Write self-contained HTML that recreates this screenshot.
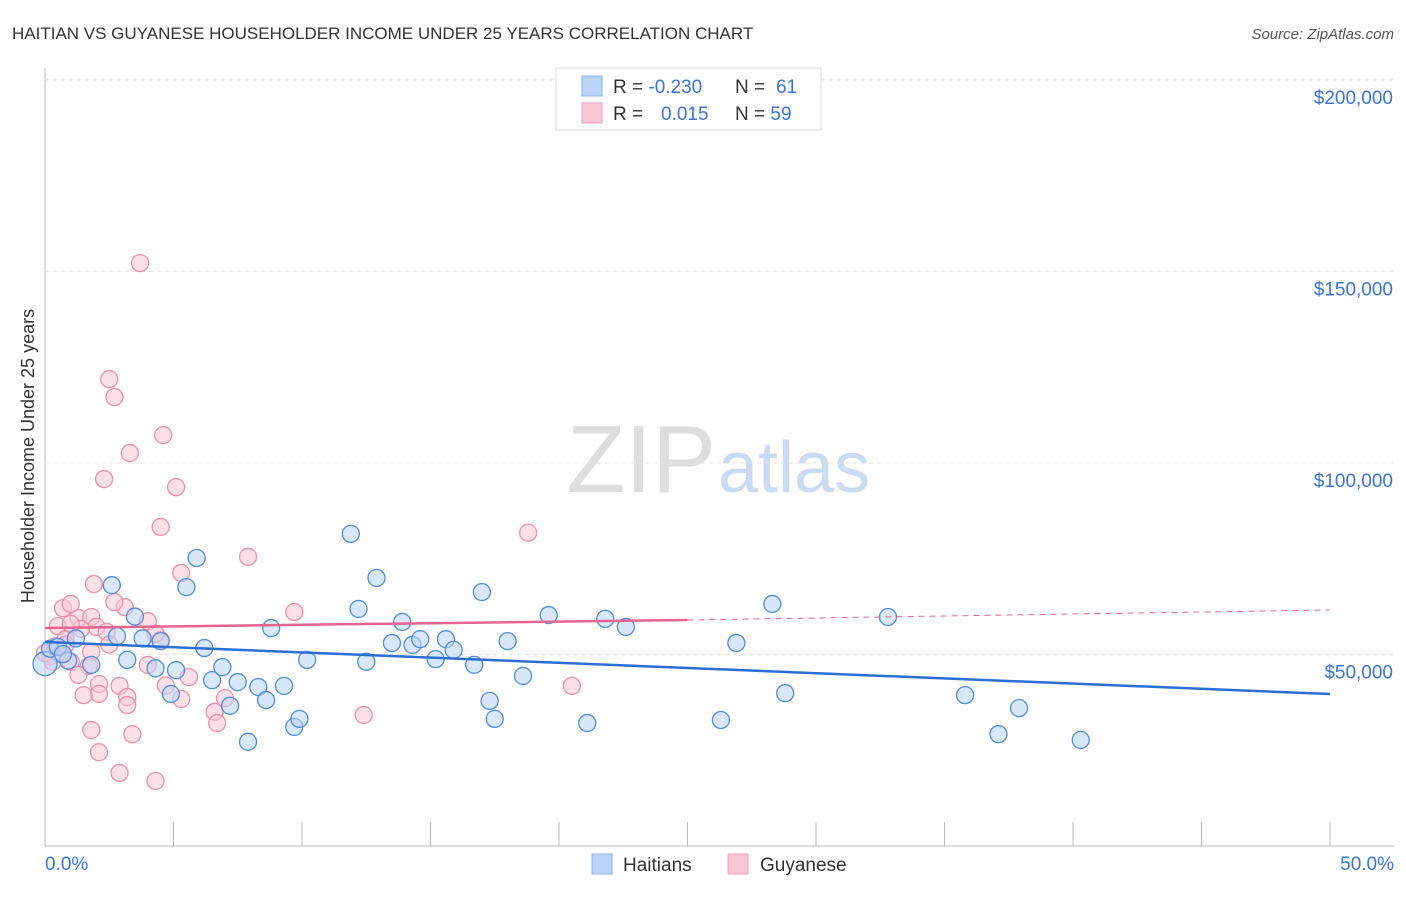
<!DOCTYPE html>
<html><head><meta charset="utf-8"><style>
body{margin:0;background:#fff;font-family:"Liberation Sans",sans-serif}
svg text{font-family:"Liberation Sans",sans-serif}
</style></head><body>
<svg id="c" width="1406" height="892" xmlns="http://www.w3.org/2000/svg">
<text x="12" y="39" font-size="17" fill="#333">HAITIAN VS GUYANESE HOUSEHOLDER INCOME UNDER 25 YEARS CORRELATION CHART</text>
<text x="1394" y="39" font-size="15" fill="#555" text-anchor="end" font-style="italic">Source: ZipAtlas.com</text>
<text x="716" y="492" font-size="96" fill="#ddd" text-anchor="end" font-family="Liberation Serif">ZIP</text>
<text x="718" y="492" font-size="72" fill="#c9dbf3">atlas</text>
<text transform="translate(34,456) rotate(-90)" font-size="18" fill="#333" text-anchor="middle">Householder Income Under 25 years</text>
<g id="grid"></g><g id="marks"></g>
<g>
<rect x="556" y="68" width="265" height="62" fill="#fff" stroke="#ddd"/>
<rect x="582" y="76" width="20" height="20" fill="#b9d4f6" stroke="#8ab3e8"/>
<rect x="582" y="103" width="20" height="20" fill="#f9c6d5" stroke="#f0a0b8"/>
<text x="613" y="93" font-size="19" fill="#333">R = <tspan fill="#3b76d4">-0.230</tspan><tspan x="735">N = </tspan><tspan fill="#3b76d4" x="776">61</tspan></text>
<text x="613" y="120" font-size="19" fill="#333">R = <tspan fill="#3b76d4" x="661">0.015</tspan><tspan x="735">N = </tspan><tspan fill="#3b76d4">59</tspan></text>
</g>
<g>
<rect x="592" y="854" width="20" height="20" fill="#b9d4f6" stroke="#8ab3e8"/>
<text x="623" y="871" font-size="19" fill="#333">Haitians</text>
<rect x="728" y="854" width="20" height="20" fill="#f9c6d5" stroke="#f0a0b8"/>
<text x="760" y="871" font-size="19" fill="#333">Guyanese</text>
</g>
<text x="45" y="870" font-size="19" fill="#3b76d4">0.0%</text>
<text x="1394" y="870" font-size="19" fill="#3b76d4" text-anchor="end">50.0%</text>
</svg>
<script>
const yTicks=[50000,100000,150000,200000];
const yTickLabels=["$50,000","$100,000","$150,000","$200,000"];
const haitianX=[0,0.2,0.5,0.9,1.2,1.8,2.6,2.8,3.2,3.5,3.8,4.3,4.5,4.9,5.1,5.5,5.9,6.2,6.5,6.9,7.2,7.5,7.9,8.3,8.6,8.8,9.3,9.7,9.9,10.2,11.9,12.2,12.5,12.9,13.5,13.9,14.3,14.6,15.2,15.6,15.9,16.7,17.0,17.3,17.5,18.0,18.6,19.6,21.1,21.8,22.6,26.3,26.9,28.3,28.8,32.8,35.8,37.1,37.9,40.3,0.7];
const haitianY=[47.6,51.5,52.0,48.4,54.2,47.3,68.1,54.8,48.6,59.9,54.2,46.4,53.5,39.7,45.9,67.6,75.2,51.7,43.3,46.7,36.6,42.8,27.2,41.5,38.1,56.9,41.8,31.1,33.2,48.6,81.5,61.9,48.1,70.0,53.0,58.5,52.5,54.0,48.8,54.0,51.2,47.3,66.3,37.9,33.2,53.5,44.4,60.3,32.1,59.3,57.2,32.9,53.0,63.2,39.9,59.8,39.4,29.2,36.0,27.7,50.1];
const guyX=[3.7,2.5,2.7,4.6,3.3,2.3,5.1,4.5,18.8,7.9,5.3,1.9,9.7,0.7,3.1,1.3,1.8,4.0,2.0,0.5,1.4,0.8,2.4,4.5,2.5,0.4,0.2,1.0,1.8,4.0,1.7,1.3,5.6,4.7,2.9,20.5,2.1,2.1,1.5,3.2,5.3,7.0,3.2,6.6,12.4,6.7,1.8,3.4,2.1,2.9,4.3,0.3,0.6,1.0,2.7,4.3,0,0.8,1.0];
const guyY=[152.2,121.9,117.2,107.3,102.6,95.8,93.7,83.3,81.8,75.5,71.3,68.4,61.1,62.1,62.4,59.5,59.8,58.7,57.2,57.4,56.7,54.0,55.9,53.8,52.6,52.1,49.5,48.1,50.7,47.3,47.0,44.7,44.1,41.9,41.8,41.8,42.3,39.7,39.4,38.9,38.4,38.6,36.8,35.0,34.2,32.1,30.3,29.2,24.5,19.1,17.0,48.1,50.1,58.0,63.7,55.4,50.4,52.6,63.2];
const X=v=>45+v*25.7, Y=v=>846-v/1000*3.83;
const NS="http://www.w3.org/2000/svg";
const mk=(t,a,p)=>{const e=document.createElementNS(NS,t);for(const k in a)e.setAttribute(k,a[k]);p.appendChild(e);return e;};
const gridG=document.getElementById('grid'),marksG=document.getElementById('marks');
const yAxisLine=mk('line',{x1:45,y1:68,x2:45,y2:846,stroke:'#bbb'},gridG);


const xAxisLine=mk('line',{x1:45,y1:846,x2:1394,y2:846,stroke:'#bbb'},gridG);


const topGrid=mk('line',{x1:45,y1:79,x2:1394,y2:79,stroke:'#e3e3e3','stroke-dasharray':'4,4'},gridG);


yTicks.forEach((t,i)=>{
 const l=mk('line',{x1:45,y1:Y(t),x2:1394,y2:Y(t),stroke:'#e3e3e3','stroke-dasharray':'4,4'},gridG);
 
 
 const tx=mk('text',{x:1393,y:Y(t)+24,'font-size':19,fill:'#3b76d4','text-anchor':'end'},gridG);
 tx.textContent=yTickLabels[i];
 
 
});
for(let i=1;i<=10;i++){const l=mk('line',{x1:X(i*5),y1:822,x2:X(i*5),y2:846,stroke:'#bbb'},gridG);
 
 }
function pts(xs,ys,f,s,name){xs.forEach((x,i)=>{const c=mk('circle',{cx:X(x),cy:Y(ys[i]*1000),r:(i==0&&name=='haitian-point')?12:8.5,fill:f,'fill-opacity':0.55,stroke:s,'stroke-width':1.3},marksG);
 
 });}
pts(guyX,guyY,'#f9c6d5','#ee8fac','guyanese-point');
pts(haitianX,haitianY,'#b9d4f6','#4f8ee0','haitian-point');
const bl=mk('line',{x1:X(0),y1:642,x2:X(50),y2:694,stroke:'#2a6fd6','stroke-width':2.5},marksG);


const pl=mk('line',{x1:X(0),y1:628,x2:X(25),y2:620,stroke:'#e86490','stroke-width':2.5},marksG);


const pd=mk('line',{x1:X(25),y1:620,x2:X(50),y2:610,stroke:'#e86490','stroke-width':1,'stroke-dasharray':'6,5'},marksG);


</script>
</body></html>
